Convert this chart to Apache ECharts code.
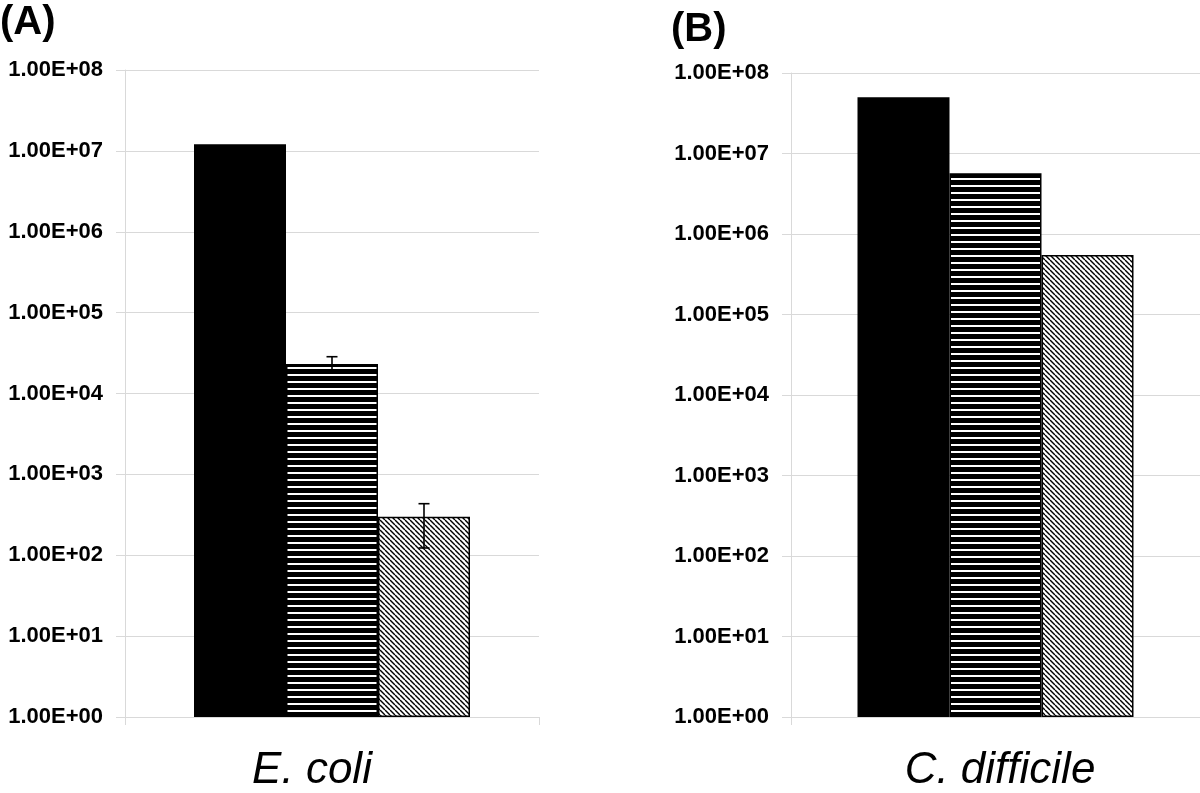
<!DOCTYPE html>
<html>
<head>
<meta charset="utf-8">
<script src="https://cdn.jsdelivr.net/npm/echarts@6/dist/echarts.min.js"></script>
<style>
html,body{margin:0;padding:0;background:#fff;}
#chart{width:1200px;height:793px;}
</style>
</head>
<body>
<div id="chart"></div>
<script>
// ---- data ----
const categories = ['E. coli', 'C. difficile'];
const panelLabels = ['(A)', '(B)'];
const solidValues = [1.21e7, 5.0e7];
const stripedValues = [2.32e4, 5.7e6];
const hatchedValues = [300, 5.5e5];
const stripedErrLow = [1.8e4, null];
const stripedErrHigh = [2.85e4, null];
const hatchedErrLow = [123, null];
const hatchedErrHigh = [434, null];
const yTickLabels = ['1.00E+00','1.00E+01','1.00E+02','1.00E+03','1.00E+04','1.00E+05','1.00E+06','1.00E+07','1.00E+08'];

// ---- patterns ----
function stripePattern() {
  const c = document.createElement('canvas');
  c.width = 8; c.height = 7;
  const g = c.getContext('2d');
  g.fillStyle = '#000'; g.fillRect(0, 0, 8, 7);
  g.fillStyle = '#fff'; g.fillRect(0, 3, 8, 2);
  return c;
}
function hatchPattern() {
  const s = 5;
  const c = document.createElement('canvas');
  c.width = s; c.height = s;
  const g = c.getContext('2d');
  g.fillStyle = '#fff'; g.fillRect(0, 0, s, s);
  g.strokeStyle = '#000'; g.lineWidth = 1.4;
  [-s, 0, s].forEach(function (x0) {
    g.beginPath(); g.moveTo(x0, 0); g.lineTo(x0 + s, s); g.stroke();
  });
  return c;
}

const GRID = '#d9d9d9';
const BAR_W = 92;
const fontFamily = '"Liberation Sans", Arial, sans-serif';

const grids = [
  { left: 125, right: 661, top: 70, bottom: 76 },
  { left: 791, right: -4, top: 73, bottom: 75 }
];
const labelPad = [[0, 40, 0, 0], [0, 0, 0, 9]];

const xAxes = [], yAxes = [], series = [], titles = [];
const groups = [
  { vals: solidValues, color: '#000', lo: null, hi: null },
  { vals: stripedValues, color: { image: stripePattern(), repeat: 'repeat' }, lo: stripedErrLow, hi: stripedErrHigh },
  { vals: hatchedValues, color: { image: hatchPattern(), repeat: 'repeat' }, lo: hatchedErrLow, hi: hatchedErrHigh }
];

for (let p = 0; p < 2; p++) {
  xAxes.push({
    type: 'category', gridIndex: p, data: [categories[p]],
    axisLine: { onZero: false, lineStyle: { color: GRID, width: 1 } },
    axisTick: { show: true, length: 8, lineStyle: { color: GRID } },
    axisLabel: {
      color: '#000', fontSize: 44, fontStyle: 'italic', fontFamily: fontFamily,
      margin: 32, padding: labelPad[p]
    },
    splitLine: { show: false }
  });
  yAxes.push({
    type: 'log', logBase: 10, gridIndex: p, min: 1, max: 1e8, splitNumber: 8,
    axisLine: { show: true, lineStyle: { color: GRID, width: 1 } },
    axisTick: { show: true, length: 9, lineStyle: { color: GRID } },
    minorTick: { show: false },
    splitLine: { show: true, lineStyle: { color: GRID, width: 1 } },
    axisLabel: {
      color: '#000', fontSize: 22, fontWeight: 'bold', fontFamily: fontFamily, margin: 22,
      formatter: function (v) { return yTickLabels[Math.round(Math.log10(v))]; }
    }
  });
  groups.forEach(function (gr, gi) {
    series.push({
      type: 'bar', xAxisIndex: p, yAxisIndex: p,
      barWidth: BAR_W, barGap: '0%',
      data: [gr.vals[p]],
      itemStyle: { color: gr.color, borderColor: '#000', borderWidth: 1.5 },
      silent: true, animation: false
    });
  });
  const errData = [];
  groups.forEach(function (gr, gi) {
    if (gr.lo && gr.lo[p] != null) errData.push([0, gr.lo[p], gr.hi[p], gi]);
  });
  series.push({
    type: 'custom', xAxisIndex: p, yAxisIndex: p, data: errData, z: 10, animation: false,
    renderItem: function (params, api) {
      const gi = api.value(3);
      const lo = api.coord([api.value(0), api.value(1)]);
      const hi = api.coord([api.value(0), api.value(2)]);
      const x = lo[0] + (gi - 1) * BAR_W;
      const cap = 5.5;
      const st = { stroke: '#000', lineWidth: 1.6 };
      return {
        type: 'group', children: [
          { type: 'line', shape: { x1: x, y1: lo[1], x2: x, y2: hi[1] }, style: st },
          { type: 'line', shape: { x1: x - cap, y1: hi[1], x2: x + cap, y2: hi[1] }, style: st },
          { type: 'line', shape: { x1: x - cap, y1: lo[1], x2: x + cap, y2: lo[1] }, style: st }
        ]
      };
    }
  });
}

titles.push({ text: panelLabels[0], left: 0, top: 3, padding: 0,
  textStyle: { fontSize: 40, fontWeight: 'bold', color: '#000', fontFamily: fontFamily } });
titles.push({ text: panelLabels[1], left: 671, top: 10, padding: 0,
  textStyle: { fontSize: 40, fontWeight: 'bold', color: '#000', fontFamily: fontFamily } });

const chart = echarts.init(document.getElementById('chart'), null, { renderer: 'canvas' });
chart.setOption({
  backgroundColor: '#fff',
  animation: false,
  title: titles,
  grid: grids,
  xAxis: xAxes,
  yAxis: yAxes,
  series: series
});
</script>
</body>
</html>
